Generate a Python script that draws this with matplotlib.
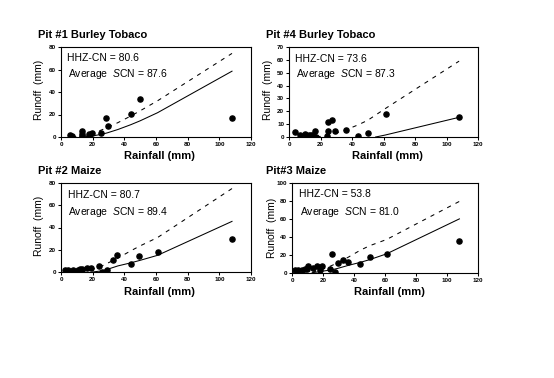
import numpy as np
import matplotlib
matplotlib.use('Agg')
import matplotlib.pyplot as plt

plt.rcParams['font.family'] = 'Liberation Sans'
plt.rcParams['mathtext.fontset'] = 'custom'
plt.rcParams['mathtext.rm'] = 'Liberation Sans'
plt.rcParams['mathtext.it'] = 'Liberation Sans:italic'

# Pit #1 Burley Tobaco
p1_rain = [5.5, 7, 13.5, 13.5, 13.5, 17.5, 17.5, 19.5, 25.5, 28.5, 29.5, 44, 50, 108]
p1_runoff = [2, 1, 5, 3, 1, 3, 1, 4, 4, 17, 10, 20.5, 34, 16.5]
p1_dash_x = [7, 13.5, 17.5, 19.5, 25.5, 28.5, 29.5, 36, 44, 50, 61, 108]
p1_dash_y = [0, 0.9, 2.3, 3.1, 6.2, 7.9, 8.5, 12.8, 18.6, 23.3, 32.2, 74.3]
p1_solid_x = [12, 13.5, 17.5, 19.5, 25.5, 28.5, 29.5, 36, 44, 50, 61, 108]
p1_solid_y = [0, 0, 0.4, 0.8, 2.4, 3.4, 3.8, 6.7, 10.9, 14.4, 21.6, 58.5]

# Pit #4 Burley Tobaco
p4_rain = [4, 7, 10, 12.5, 14, 15.5, 16.5, 17, 24, 24.5, 25, 27.5, 29.5, 36, 44, 50, 61.5, 108]
p4_runoff = [4, 1.6, 2.3, 1.6, 1.6, 1.6, 4.9, 0.3, 0.5, 4.9, 11.4, 13.2, 4.7, 5.4, 0.5, 2.8, 17.6, 15.3]
p4_dash_x = [17.5, 25.5, 29.5, 36, 44, 50, 61, 108]
p4_dash_y = [0, 1.5, 3, 5.5, 9.5, 13, 22, 59]
p4_solid_x = [55, 61, 108]
p4_solid_y = [0, 1.5, 15.3]

# Pit #2 Maize
p2_rain = [2.5, 4.6, 7.8, 10.9, 12, 13, 16.6, 18.8, 24, 25.7, 28.9, 33, 35.6, 44, 49.5, 61.5, 108]
p2_runoff = [1.5, 1.5, 2, 2, 2.5, 2.5, 3.6, 3.6, 5.1, 0.3, 2.1, 11.1, 15.6, 7.5, 14.7, 18, 29.5]
p2_dash_x = [13, 17.5, 20, 25, 29.5, 36, 44, 50, 61, 108]
p2_dash_y = [0, 1.5, 2.5, 4.8, 8, 12.5, 19, 23.5, 31, 75]
p2_solid_x = [20, 25.5, 29.5, 36, 44, 50, 61, 108]
p2_solid_y = [0, 1, 2.5, 5.5, 8.2, 10.5, 15, 45.5]

# Pit#3 Maize
p3_rain = [1.9, 4, 6.2, 8.3, 9.4, 10.6, 13.8, 16.4, 18, 19.6, 24.5, 25.6, 28, 29.5, 33.2, 36.4, 43.9, 50.3, 61.5, 108]
p3_runoff = [2.7, 3, 3.5, 4, 4, 7.1, 5.2, 7.1, 3, 7.1, 4.5, 20.8, 1, 10.8, 14.5, 11.9, 10, 17.2, 21.2, 35]
p3_dash_x = [13, 17.5, 20, 25, 29.5, 36, 44, 50, 61, 108]
p3_dash_y = [0.5, 2.5, 4, 7.5, 11, 17, 25, 30, 37, 79.5]
p3_solid_x = [13, 17.5, 20, 25, 29.5, 36, 44, 50, 61, 108]
p3_solid_y = [0, 1, 1.8, 3, 4.8, 8, 11.5, 14.5, 21, 60]

titles = ['Pit #1 Burley Tobaco', 'Pit #4 Burley Tobaco', 'Pit #2 Maize', 'Pit#3 Maize']
hhz_cn = ['80.6', '73.6', '80.7', '53.8']
avg_scn = ['87.6', '87.3', '89.4', '81.0']

W, H = 554, 378
fig = plt.figure(figsize=(W / 100, H / 100), dpi=100)

def px(x, y):
    return x / W, 1 - y / H

# axes boxes in pixels: left, top, right, bottom
boxes = [(61, 47, 251, 137), (289, 47, 478, 137), (61, 183, 251, 272), (292, 183, 478, 272.7)]
ymax = [80, 70, 80, 100]
ystep = [20, 10, 20, 20]
data = [(p1_rain, p1_runoff, p1_dash_x, p1_dash_y, p1_solid_x, p1_solid_y),
        (p4_rain, p4_runoff, p4_dash_x, p4_dash_y, p4_solid_x, p4_solid_y),
        (p2_rain, p2_runoff, p2_dash_x, p2_dash_y, p2_solid_x, p2_solid_y),
        (p3_rain, p3_runoff, p3_dash_x, p3_dash_y, p3_solid_x, p3_solid_y)]
# title, annotation and label anchor points (pixels)
title_xy = [(38, 38), (266, 38), (38, 174), (266, 174)]
ann_xy = [(67, 61, 68, 77), (295, 62, 296, 77), (68, 198, 68, 215), (299, 197, 300, 215)]
xlab_xy = [(159, 159), (387, 159), (159, 295), (389, 295)]
ylab_xy = [(39, 90), (268, 90), (39, 226), (272, 228)]

for i in range(4):
    l, t, r, b = boxes[i]
    ax = fig.add_axes([l / W, 1 - b / H, (r - l) / W, (b - t) / H])
    rain, runoff, dx, dy, sx, sy = data[i]
    ax.plot(dx, dy, color='k', lw=0.75, linestyle=(0, (4, 5)))
    ax.plot(sx, sy, color='k', lw=0.75)
    ax.plot(rain, runoff, 'o', color='k', ms=3.7, mec='k')
    ax.set_xlim(0, 120)
    ax.set_ylim(0, ymax[i])
    ax.set_xticks(np.arange(0, 121, 20))
    ax.set_yticks(np.arange(0, ymax[i] + 1, ystep[i]))
    ax.tick_params(direction='out', length=2, width=0.75, pad=1.5, labelsize=4.5)
    for lab in ax.get_xticklabels() + ax.get_yticklabels():
        lab.set_fontweight('bold')
    for s in ax.spines.values():
        s.set_linewidth(0.8)

    fig.text(*px(*title_xy[i]), titles[i], fontsize=8, fontweight='bold', va='baseline')
    fig.text(*px(ann_xy[i][0], ann_xy[i][1]), 'HHZ-CN = ' + hhz_cn[i], fontsize=7.5, va='baseline')
    fig.text(*px(ann_xy[i][2], ann_xy[i][3]), 'Average  $\\it{S}$CN = ' + avg_scn[i], fontsize=7.5, va='baseline')
    fig.text(*px(*xlab_xy[i]), 'Rainfall (mm)', fontsize=8, fontweight='bold', ha='center', va='baseline')
    fig.text(*px(*ylab_xy[i]), 'Runoff  (mm)', fontsize=7.5, rotation=90, ha='center', va='center')

plt.savefig('out.png', dpi=100)
